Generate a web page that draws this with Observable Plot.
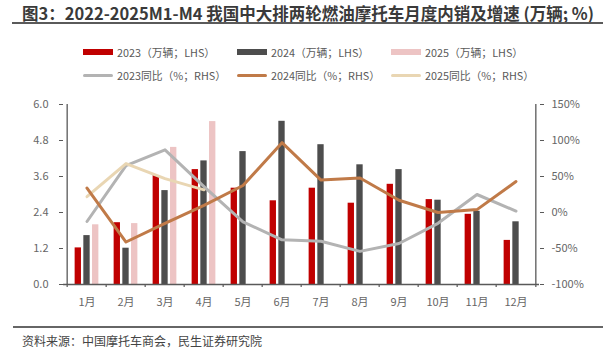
<!DOCTYPE html>
<html>
<head>
<meta charset="utf-8">
<script src="https://cdn.jsdelivr.net/npm/d3@7"></script>
<script src="https://cdn.jsdelivr.net/npm/@observablehq/plot@0.6"></script>
<style>
  html, body { margin: 0; padding: 0; background: #fff; }
  body { width: 603px; height: 359px; position: relative; overflow: hidden;
         font-family: "Noto Sans CJK SC", "Noto Sans", sans-serif; }
  #title { position: absolute; left: 22px; top: 4px; font-size: 16.5px; font-weight: 700;
           line-height: 18px; color: #3a3a3a; white-space: nowrap; }
  #titleRule { position: absolute; left: 12px; top: 22px; width: 591px; height: 2px; background: #5a5a5a; }
  .leg { position: absolute; height: 16px; line-height: 16px; font-size: 10.8px; color: #595959; white-space: nowrap; }
  .sw { position: absolute; left: 0; width: 30px; }
  .lt { position: absolute; left: 34px; top: 0; }
  #chart { position: absolute; left: 0; top: 90px; }
  #footRule { position: absolute; left: 13px; top: 326px; width: 590px; height: 2px; background: #666; }
  #foot { position: absolute; left: 22px; top: 333px; font-size: 12px; line-height: 16px; color: #444; white-space: nowrap; }
</style>
</head>
<body>
<div id="title">图3：2022-2025M1-M4 我国中大排两轮燃油摩托车月度内销及增速 (万辆; %)</div>
<div id="titleRule"></div>
<div id="legend"></div>
<div id="chart"></div>
<div id="footRule"></div>
<div id="foot">资料来源：中国摩托车商会，民生证券研究院</div>
<script>
// ---- data ----
const months = ["1月","2月","3月","4月","5月","6月","7月","8月","9月","10月","11月","12月"];
const sales2023 = [1.22, 2.06, 3.63, 3.83, 3.21, 2.79, 3.21, 2.71, 3.34, 2.83, 2.34, 1.47];
const sales2024 = [1.63, 1.21, 3.13, 4.12, 4.43, 5.44, 4.66, 3.99, 3.83, 2.81, 2.44, 2.09];
const sales2025 = [1.99, 2.03, 4.57, 5.43];
const yoy2023 = [-12.5, 65, 87, 36, -13, -38, -40, -54, -43, -15, 25, 2];
const yoy2024 = [34, -41, -15, 10, 37.5, 97, 45, 48, 17, 0, 4, 43];
const yoy2025 = [22, 68, 47, 31.5];
const leftTicks = [0, 1.2, 2.4, 3.6, 4.8, 6.0];
const rightTickLabels = ["-100%", "-50%", "0%", "50%", "100%", "150%"];
const barLabels = ["2023（万辆；LHS）", "2024（万辆；LHS）", "2025（万辆；LHS）"];
const lineLabels = ["2023同比（%；RHS）", "2024同比（%；RHS）", "2025同比（%；RHS）"];

// ---- style ----
const barColors = ["#C00000", "#4D4D4D", "#EDC4C4"];
const lineColors = ["#B3B3B3", "#C07A48", "#E9D6B3"];

// ---- legend ----
const legend = document.getElementById("legend");
function addLegend(label, color, left, top, isLine) {
  const d = document.createElement("div");
  d.className = "leg";
  d.style.left = left + "px";
  d.style.top = (top - 8) + "px";
  const s = document.createElement("div");
  s.className = "sw";
  s.style.background = color;
  if (isLine) { s.style.height = "3px"; s.style.top = "6.5px"; s.style.borderRadius = "1.5px"; }
  else { s.style.height = "6px"; s.style.top = "5px"; }
  const t = document.createElement("div");
  t.className = "lt";
  t.textContent = label;
  d.appendChild(s); d.appendChild(t);
  legend.appendChild(d);
}
barLabels.forEach((l, k) => addLegend(l, barColors[k], 83 + k * 154, 52, false));
lineLabels.forEach((l, k) => addLegend(l, lineColors[k], 83 + k * 154, 75, true));

// ---- chart ----
const W = 603, H = 228, ML = 63, MR = 64, MT = 14, MB = 34;
const step = (W - ML - MR) / months.length;
const toLeft = p => (p + 100) * 6 / 250;   // right-axis % -> left-axis units

const rows = (arr) => arr.map((v, i) => ({month: months[i], v}));
const barW = 7, gap = 8.7;
const inset = (step - barW) / 2;
const axisColor = "#595959";

const chart = Plot.plot({
  width: W, height: H,
  marginLeft: ML, marginRight: MR, marginTop: MT, marginBottom: MB,
  style: {fontFamily: '"Noto Sans CJK SC", "Noto Sans", sans-serif', fontSize: "11px", color: "#666", background: "transparent"},
  x: {domain: months, padding: 0, label: null},
  y: {domain: [0, 6], label: null},
  marks: [
    Plot.barY(rows(sales2023), {x: "month", y: "v", fill: barColors[0], insetLeft: inset, insetRight: inset, dx: -gap}),
    Plot.barY(rows(sales2024), {x: "month", y: "v", fill: barColors[1], insetLeft: inset, insetRight: inset}),
    Plot.barY(rows(sales2025), {x: "month", y: "v", fill: barColors[2], insetLeft: inset, insetRight: inset, dx: gap}),
    Plot.ruleY([0], {stroke: axisColor, strokeWidth: 1.3}),
    Plot.ruleX([months[0]], {x: d => d, dx: -step / 2, y1: 0, y2: 6, stroke: axisColor, strokeWidth: 1.3}),
    Plot.ruleX([months[months.length - 1]], {x: d => d, dx: step / 2, y1: 0, y2: 6, stroke: axisColor, strokeWidth: 1.3}),
    Plot.ruleX(months, {x: d => d, dx: -step / 2, y1: 0, y2: -0.1, stroke: axisColor, strokeWidth: 1.2}),
    Plot.ruleX([months[months.length - 1]], {x: d => d, dx: step / 2, y1: 0, y2: -0.1, stroke: axisColor, strokeWidth: 1.2}),
    Plot.line(rows(yoy2023), {x: "month", y: d => toLeft(d.v), stroke: lineColors[0], strokeWidth: 3, strokeLinejoin: "round", strokeLinecap: "round"}),
    Plot.line(rows(yoy2025), {x: "month", y: d => toLeft(d.v), stroke: lineColors[2], strokeWidth: 3, strokeLinejoin: "round", strokeLinecap: "round"}),
    Plot.line(rows(yoy2024), {x: "month", y: d => toLeft(d.v), stroke: lineColors[1], strokeWidth: 3, strokeLinejoin: "round", strokeLinecap: "round"}),
    Plot.axisX({tickSize: 0, tickPadding: 14, label: null, fill: "#666"}),
    Plot.axisY({anchor: "left", ticks: leftTicks, tickFormat: d3.format(".1f"), tickSize: 4, tickPadding: 11, label: null, stroke: axisColor, fill: "#666"}),
    Plot.axisY({anchor: "right", ticks: leftTicks, tickFormat: d => rightTickLabels[leftTicks.indexOf(d)], tickSize: 4, tickPadding: 8, label: null, stroke: axisColor, fill: "#666"})
  ]
});
document.getElementById("chart").appendChild(chart);
</script>
</body>
</html>
